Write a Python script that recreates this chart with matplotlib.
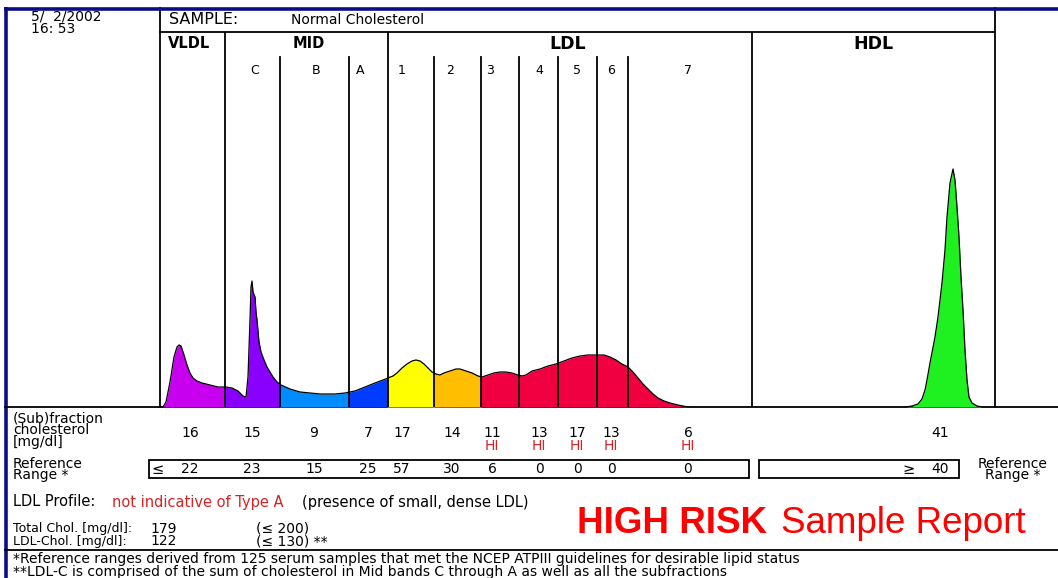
import numpy as np
import matplotlib.pyplot as plt
from matplotlib.patches import Rectangle

plt.rcParams['font.family'] = ['DejaVu Sans']

W, H = 1058, 578

# header info
report_date = "5/  2/2002"
report_time = "16: 53"
sample_name = "Normal Cholesterol"

# band boundaries along the gel (mobility, image units)
group_names = ["VLDL", "MID", "LDL", "HDL"]
group_edges = [160, 225, 388, 752, 995]
sub_names = ["C", "B", "A", "1", "2", "3", "4", "5", "6", "7"]
sub_edges = [280, 349, 434, 481, 519, 558, 597, 628]

# colour bands of the profile
fill_edges = [160, 225, 280, 349, 388, 434, 481, 752]
fill_colors = ['#c800f0', '#8a00ff', '#008cff', '#003cff',
               '#ffff00', '#ffbe00', '#f00040']
hdl_color = '#1ff01f'

# densitometry profile (position, height)
main_x = [163, 166, 170, 174, 177, 179, 181, 184, 187, 190, 193, 197, 202, 210,
          218, 226, 232, 238, 243, 246, 248, 250, 251, 252, 253, 255, 256, 257,
          259, 261, 264, 267, 270, 273, 277, 281, 290, 300, 310, 320, 335, 345,
          355, 365, 375, 383, 388, 393, 397, 402, 407, 412, 416, 420, 424, 428,
          432, 436, 440, 444, 450, 456, 460, 466, 472, 478, 482, 488, 494, 500,
          506, 512, 518, 522, 526, 532, 540, 548, 556, 564, 572, 580, 588, 596,
          604, 610, 616, 622, 628, 633, 638, 643, 648, 653, 658, 664, 670, 678, 688]
main_h = [0, 5, 25, 50, 60, 62, 61, 52, 42, 34, 29, 26, 24, 22,
          20, 20, 19, 16, 11, 10, 30, 87, 120, 126, 115, 110, 95, 87,
          65, 55, 47, 40, 35, 30, 25, 22, 18, 15, 14, 13, 13, 14,
          16, 20, 24, 27, 29, 31, 34, 39, 43, 46, 47, 46, 43, 39,
          35, 33, 32, 34, 36, 38, 38, 36, 34, 31, 30, 32, 34, 35,
          35, 34, 32, 31, 32, 36, 38, 41, 43, 46, 49, 51, 52, 52,
          52, 50, 47, 43, 40, 35, 29, 23, 18, 13, 9, 6, 4, 2, 0]
hdl_x = [906, 912, 918, 922, 925, 927, 930, 935, 938, 942, 945, 947, 950, 953,
         955, 957, 959, 961, 963, 965, 967, 969, 972, 977, 982]
hdl_h = [0, 1, 3, 8, 17, 27, 44, 70, 90, 124, 157, 190, 224, 238,
         227, 200, 170, 130, 97, 57, 27, 10, 4, 1, 0]

# table
chol_values = [16, 15, 9, 7, 17, 14, 11, 13, 17, 13, 6, 41]
hi_flags = [False, False, False, False, False, False, True, True, True, True, True, False]
ref_values = [22, 23, 15, 25, 57, 30, 6, 0, 0, 0, 0, 40]
total_chol = 179
total_limit = 200
ldl_chol = 122
ldl_limit = 130

# text column positions
sub_label_x = [255, 316, 360, 402, 450, 490, 539, 577, 611, 688]
value_x = [190, 252, 314, 368, 402, 452, 492, 539, 577, 611, 688, 940]

navy = '#0c0c86'
red = '#d42424'
fs = 10

fig = plt.figure(figsize=(W / 100, H / 100), dpi=100)
ax = fig.add_axes([0, 0, 1, 1])
ax.set_xlim(0, W)
ax.set_ylim(H, 0)
ax.axis('off')

base_y = 407
top_y = 32
pa = fig.add_axes([160 / W, (H - base_y) / H, (995 - 160) / W, (base_y - top_y) / H])
pa.set_xlim(160, 995)
pa.set_ylim(0, base_y - top_y)
pa.axis('off')
pa.patch.set_alpha(0)

# coloured profile
mx = np.array(main_x)
mh = np.array(main_h)
for x0, x1, col in zip(fill_edges, fill_edges[1:] + [995], fill_colors):
    f = pa.fill_between(mx, mh, 0, color=col, lw=0)
    f.set_clip_path(Rectangle((x0, 0), x1 - x0, 400, transform=pa.transData))
pa.plot(mx, mh, color='k', lw=0.9)
pa.fill_between(hdl_x, hdl_h, 0, color=hdl_color, lw=0)
pa.plot(hdl_x, hdl_h, color='k', lw=0.9)

# divider lines
for x in sub_edges:
    pa.plot([x, x], [0, base_y - 57], color='k', lw=1.3)
for x in group_edges[1:-1]:
    pa.plot([x, x], [0, base_y - top_y], color='k', lw=1.3)
for x in (group_edges[0], group_edges[-1]):
    ax.plot([x, x], [8, base_y], color='k', lw=1.3)
ax.plot([160, 995], [top_y, top_y], color='k', lw=1.3)

# frame lines
ax.plot([4, W], [8.5, 8.5], color=navy, lw=2.6, solid_capstyle='butt')
ax.plot([5.5, 5.5], [7, H], color=navy, lw=2.6, solid_capstyle='butt')
ax.plot([5, W], [base_y, base_y], color='k', lw=1.3)
ax.plot([5, W], [550, 550], color='k', lw=1.3)

# header texts
ax.text(31, 22.5, report_date + "\n" + report_time, fontsize=10, va='center',
        linespacing=0.85)
ax.text(169, 19, "SAMPLE:", fontsize=11.5, va='center')
ax.text(291, 20, sample_name, fontsize=10, va='center')

group_sizes = [10.5, 10.5, 12.5, 12.5]
group_cx = [189, 309, 568, 873]
for name, cx, s in zip(group_names, group_cx, group_sizes):
    ax.text(cx, 44, name, fontsize=s, fontweight='bold', ha='center', va='center')
for name, x in zip(sub_names, sub_label_x):
    ax.text(x, 70, name, fontsize=9, ha='center', va='center')

# table rows
ax.text(13, 430, "(Sub)fraction\ncholesterol\n[mg/dl]", fontsize=fs, va='center',
        linespacing=0.8)
for v, x, hi in zip(chol_values, value_x, hi_flags):
    ax.text(x, 433, str(v), fontsize=fs, ha='center', va='center')
    if hi:
        ax.text(x, 446, "HI", fontsize=fs, ha='center', va='center', color=red)

ax.add_patch(Rectangle((149, 460), 600, 18, fill=False, ec='k', lw=1.3))
ax.add_patch(Rectangle((759, 460), 200, 18, fill=False, ec='k', lw=1.3))
ax.text(158, 469, "\u2264", fontsize=10.5, ha='center', va='center')
ax.text(909, 469, "\u2265", fontsize=10.5, ha='center', va='center')
for v, x in zip(ref_values, value_x):
    ax.text(x, 469, str(v), fontsize=fs, ha='center', va='center')
ax.text(13, 469.5, "Reference\nRange *", fontsize=fs, va='center', linespacing=0.8)
ax.text(1013, 469.5, "Reference\nRange *", fontsize=fs, ha='center', va='center',
        multialignment='center', linespacing=0.8)

# profile summary
ax.text(13, 502, "LDL Profile:", fontsize=10.5, va='center')
ax.text(112, 502, "not indicative of Type A", fontsize=10.5, va='center', color=red)
ax.text(302, 502, "(presence of small, dense LDL)", fontsize=10.5, va='center')
ax.text(13, 535, "Total Chol. [mg/dl]:\nLDL-Chol. [mg/dl]:", fontsize=9,
        va='center', linespacing=0.95)
ax.text(150, 535, "%d\n%d" % (total_chol, ldl_chol), fontsize=fs, va='center',
        linespacing=0.85)
ax.text(256, 535, "(\u2264 %d)\n(\u2264 %d) **" % (total_limit, ldl_limit),
        fontsize=fs, va='center', linespacing=0.85)

ax.text(577, 533, "HIGH RISK", fontsize=26.5, fontweight='bold',
        family='Liberation Sans', color='#ff0000', va='baseline')
ax.text(781, 533, "Sample Report", fontsize=26.5, family='Liberation Sans',
        color='#ff0000', va='baseline')

ax.text(13, 565.5, "*Reference ranges derived from 125 serum samples that met the NCEP "
        "ATPIII guidelines for desirable lipid status\n"
        "**LDL-C is comprised of the sum of cholesterol in Mid bands C "
        "through A as well as all the subfractions",
        fontsize=10, va='center', linespacing=0.85)

fig.savefig('out.png', dpi=100)
